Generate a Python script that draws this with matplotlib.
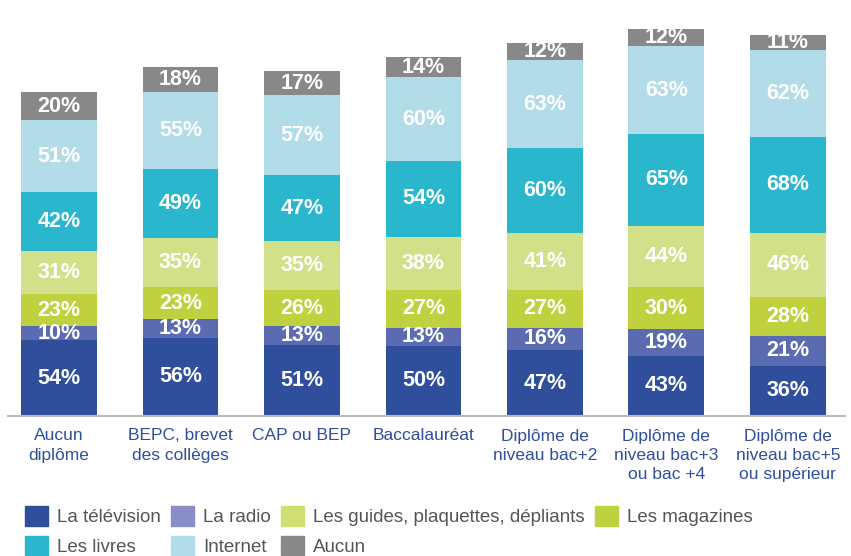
import matplotlib.pyplot as plt
from matplotlib.patches import Patch

# categories (niveau de diplome)
categories = ["Aucun\ndiplôme", "BEPC, brevet\ndes collèges", "CAP ou BEP",
              "Baccalauréat", "Diplôme de\nniveau bac+2",
              "Diplôme de\nniveau bac+3\nou bac +4",
              "Diplôme de\nniveau bac+5\nou supérieur"]

# series, bottom to top of the stack
television = [54, 56, 51, 50, 47, 43, 36]
radio = [10, 13, 13, 13, 16, 19, 21]
magazines = [23, 23, 26, 27, 27, 30, 28]
guides = [31, 35, 35, 38, 41, 44, 46]
livres = [42, 49, 47, 54, 60, 65, 68]
internet = [51, 55, 57, 60, 63, 63, 62]
aucun = [20, 18, 17, 14, 12, 12, 11]

series = [television, radio, magazines, guides, livres, internet, aucun]
bar_colors = ["#2f4f9d", "#5a6bb1", "#bfd13f", "#d3e08a", "#2ab7ce", "#b1dce8", "#888888"]

# legend order and colours (legend radio square is lighter than the bars)
legend_names = ["La télévision", "Les livres", "La radio", "Internet",
                "Les guides, plaquettes, dépliants", "Aucun", "Les magazines"]
legend_colors = ["#2f4f9d", "#2ab7ce", "#8a8ec6", "#b1dce8", "#d0de73", "#888888", "#bfd13f"]

sans = ["Liberation Sans", "DejaVu Sans"]

fig = plt.figure(figsize=(8.51, 5.56), dpi=100)
ax = fig.add_axes([8 / 851, 140 / 556, 837 / 851, 416 / 556])

x = list(range(len(categories)))
bottom = [0] * len(categories)
for vals, col in zip(series, bar_colors):
    ax.bar(x, vals, bottom=bottom, width=0.625, color=col, linewidth=0)
    for i, v in enumerate(vals):
        ax.text(x[i], bottom[i] + v / 2, f"{v}%", ha="center", va="center",
                color="white", fontsize=15.5, fontweight="bold", family=sans)
    bottom = [b + v for b, v in zip(bottom, vals)]

ax.set_xlim(-0.42, 6.47)
ax.set_ylim(0, 297)
ax.set_yticks([])
for s in ["top", "right", "left"]:
    ax.spines[s].set_visible(False)
ax.spines["bottom"].set_color("#bbbbbb")
ax.spines["bottom"].set_linewidth(1.5)

ax.set_xticks(x)
ax.set_xticklabels(categories, color="#2f4f9d", fontsize=12.5, family=sans,
                   linespacing=1.36, va="top")
ax.tick_params(axis="x", length=0, pad=9)

handles = [Patch(color=c) for c in legend_colors]
fig.legend(handles, legend_names, ncol=4, loc="lower left",
           bbox_to_anchor=(16 / 851, -9 / 556), frameon=False,
           prop={"family": sans, "size": 13.5}, labelcolor="#555555",
           handlelength=1.2, handleheight=1.2, handletextpad=0.5,
           columnspacing=0.55, labelspacing=0.5, borderpad=0)

fig.savefig("out.png", dpi=100)
